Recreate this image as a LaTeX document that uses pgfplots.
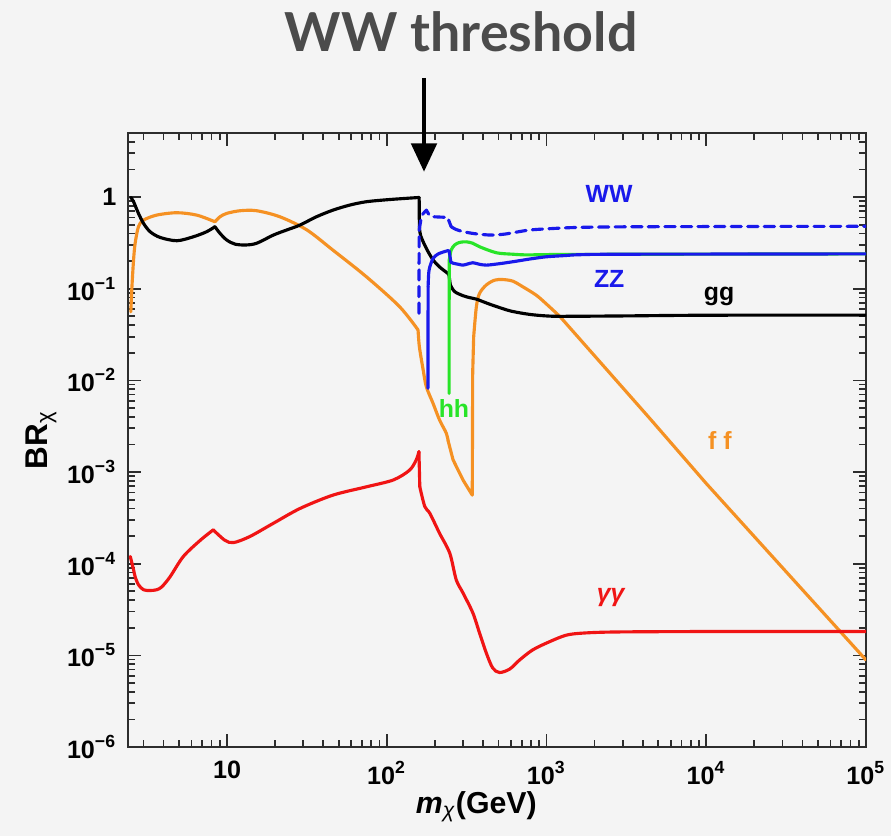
\documentclass[border=0pt]{standalone}
\usepackage{fontspec}
\setmainfont{Liberation Sans}
\newfontfamily\titlefont{Lato}
\usepackage{pgfplots}
\pgfplotsset{compat=1.18}
\usetikzlibrary{arrows.meta}
\definecolor{bg}{RGB}{244,244,244}
\definecolor{cOrange}{RGB}{245,145,35}
\definecolor{cBlue}{RGB}{25,25,235}
\definecolor{cGreen}{RGB}{40,228,40}
\definecolor{cRed}{RGB}{240,20,20}
\definecolor{cTitle}{RGB}{75,75,75}
\definecolor{cFrame}{RGB}{45,45,45}
\begin{document}
\begin{tikzpicture}
\path[use as bounding box, fill=bg] (-44.8pt,-31.15pt) rectangle (267.05pt,261.45pt);
\begin{axis}[
  scale only axis, width=258.3pt, height=214.9pt,
  xmode=log, ymode=log,
  xmin=2.4, xmax=1e5, ymin=1e-6, ymax=5,
  axis line style={cFrame, line width=0.8pt},
  every tick/.style={cFrame, line width=0.6pt},
  tick align=inside,
  major tick length=4.6pt, minor tick length=2.4pt,
  xtick={10,100,1000,10000,100000},
  xticklabels={10, 10\textsuperscript{2}, 10\textsuperscript{3}, 10\textsuperscript{4}, 10\textsuperscript{5}},
  minor xtick={3,4,5,6,7,8,9,20,30,40,50,60,70,80,90,200,300,400,500,600,700,800,900,2000,3000,4000,5000,6000,7000,8000,9000,20000,30000,40000,50000,60000,70000,80000,90000},
  ytick={1e-6,1e-5,1e-4,1e-3,1e-2,1e-1,1},
  yticklabels={10\textsuperscript{−6}, 10\textsuperscript{−5}, 10\textsuperscript{−4}, 10\textsuperscript{−3}, 10\textsuperscript{−2}, 10\textsuperscript{−1}, 1},
  minor ytick={2e-6,3e-6,4e-6,5e-6,6e-6,7e-6,8e-6,9e-6,2e-5,3e-5,4e-5,5e-5,6e-5,7e-5,8e-5,9e-5,2e-4,3e-4,4e-4,5e-4,6e-4,7e-4,8e-4,9e-4,2e-3,3e-3,4e-3,5e-3,6e-3,7e-3,8e-3,9e-3,2e-2,3e-2,4e-2,5e-2,6e-2,7e-2,8e-2,9e-2,0.2,0.3,0.4,0.5,0.6,0.7,0.8,0.9,2,3,4},
  tick label style={font=\bfseries\fontsize{8.8}{10}\selectfont, black},
  xticklabel style={yshift=-1.5pt},
  yticklabel style={xshift=-0.5pt},
  xlabel={\bfseries\itshape m\textsubscript{\normalfont\itshape χ}\upshape(GeV)},
  ylabel={\bfseries BR\textsubscript{\normalfont χ}},
  xlabel style={font=\fontsize{10.6}{12}\selectfont, at={(axis description cs:0.472,-0.097)}, anchor=center},
  ylabel style={font=\fontsize{11}{12}\selectfont, at={(axis description cs:-0.118,0.5)}, anchor=center},
  every axis plot/.append style={line width=1.1pt, line join=round, line cap=round},
  clip=true,
]
% ---------------- ff (orange) ----------------
\addplot[cOrange, smooth, tension=0.5] table {
2.5 0.056
2.54 0.105
2.6 0.206
2.66 0.313
2.79 0.475
3.0 0.56
3.63 0.636
4.85 0.675
6.46 0.636
8.4 0.538
};
\addplot[cOrange, smooth, tension=0.5] table {
8.4 0.538
9.04 0.61
9.96 0.664
12.1 0.71
15.3 0.71
21.4 0.61
31.5 0.44
46 0.264
74.6 0.135
120 0.064
157 0.0355
};
\addplot[cOrange, smooth, tension=0.5] table {
157 0.0355
160 0.0233
169 0.013
177 0.0085
195 0.0056
214 0.0037
236 0.00265
242 0.0022
};
\addplot[cOrange] table {
242 0.0022
260 0.00136
300 0.00082
343 0.00056
345 0.012
350 0.03
};
\addplot[cOrange, smooth, tension=0.5] table {
350 0.03
364 0.064
381 0.089
420 0.11
473 0.124
533 0.126
615 0.121
711 0.105
863 0.085
1000 0.068
1210 0.050
};
\addplot[cOrange] table {
1210 0.050
4400 0.0039
10000 0.00075
100000 0.0000089
};
% ---------------- gg (black) ----------------
\addplot[black, smooth, tension=0.5] table {
2.5 0.99
2.6 0.89
2.79 0.664
3.0 0.517
3.3 0.419
3.81 0.363
4.85 0.334
6.16 0.369
7.46 0.419
8.4 0.475
};
\addplot[black, smooth, tension=0.5] table {
8.4 0.475
9.04 0.402
9.96 0.34
11.2 0.307
13.0 0.30
15.3 0.313
19.5 0.385
23.6 0.437
28.6 0.495
36.3 0.61
46 0.72
58.7 0.818
74.6 0.89
104 0.94
159.5 0.99
};
\addplot[black] table {
159.5 0.99
160 0.48
};
\addplot[black, smooth, tension=0.5] table {
160 0.48
163 0.38
177 0.275
195 0.206
214 0.173
241 0.147
245 0.143
};
\addplot[black] table {
245 0.143
250 0.11
};
\addplot[black, smooth, tension=0.5] table {
250 0.11
266 0.093
300 0.084
330 0.080
364 0.077
420 0.070
485 0.064
600 0.057
783 0.0525
1000 0.0505
1260 0.050
3000 0.0505
10000 0.0514
100000 0.0516
};
% ---------------- gamma gamma (red) ----------------
\addplot[cRed, smooth, tension=0.5] table {
2.48 0.00012
2.6 0.000086
2.66 0.000072
2.79 0.000059
3.0 0.000052
3.3 0.000051
3.63 0.000052
3.91 0.000056
4.4 0.000072
5.33 0.00012
6.8 0.00018
8.2 0.000234
};
\addplot[cRed, smooth, tension=0.5] table {
8.2 0.000234
9.7 0.00018
11 0.00017
13.9 0.000198
19.5 0.000276
28.6 0.00040
46 0.00056
74.6 0.00069
110 0.00082
139 0.00105
153 0.00136
159 0.00167
};
\addplot[cRed] table {
159 0.00167
161 0.00069
};
\addplot[cRed, smooth, tension=0.5] table {
161 0.00069
173 0.00042
186 0.000355
214 0.000215
248 0.00013
272 0.000067
300 0.000048
346 0.000029
381 0.0000175
420 0.0000106
460 0.0000073
508 0.0000065
589 0.0000071
678 0.0000089
821 0.0000115
1045 0.0000141
1327 0.0000166
1690 0.0000175
2730 0.000018
10000 0.0000182
100000 0.0000182
};
% ---------------- hh (green) ----------------
\addplot[cGreen] table {
245.5 0.0072
246 0.205
};
\addplot[cGreen, smooth, tension=0.5] table {
246 0.205
253 0.264
266 0.30
285 0.32
315 0.325
346 0.313
381 0.287
485 0.247
615 0.238
783 0.234
1608 0.237
100000 0.24
};
% ---------------- WW (blue dashed) ----------------
\addplot[cBlue, dash pattern=on 3.6pt off 2.2pt] table {
159 0.054
159.5 0.437
165 0.62
169 0.66
177 0.72
185 0.63
195 0.61
241 0.60
245 0.55
253 0.475
};
\addplot[cBlue, dash pattern=on 3.6pt off 2.2pt, smooth, tension=0.5] table {
253 0.475
270 0.445
300 0.42
350 0.40
400 0.39
460 0.385
550 0.395
650 0.415
783 0.437
1000 0.45
1608 0.467
4200 0.475
100000 0.48
};
% ---------------- ZZ (blue solid) ----------------
\addplot[cBlue] table {
181 0.0082
181.5 0.105
};
\addplot[cBlue, smooth, tension=0.5] table {
181.5 0.105
183 0.147
186 0.173
195 0.214
210 0.24
241 0.26
246 0.255
};
\addplot[cBlue] table {
246 0.255
252 0.195
};
\addplot[cBlue, smooth, tension=0.5] table {
252 0.195
260 0.19
280 0.185
300 0.181
320 0.186
346 0.192
380 0.185
420 0.181
500 0.187
615 0.197
800 0.212
995 0.223
1300 0.23
1608 0.235
3000 0.238
100000 0.24
};
\begin{scope}[font=\bfseries\fontsize{8.7}{10}\selectfont]
\node[cBlue] at (rel axis cs:0.652,0.9007) {WW};
\node[cBlue] at (rel axis cs:0.652,0.762) {ZZ};
\node[black] at (rel axis cs:0.801,0.7345) {gg};
\node[cGreen] at (rel axis cs:0.4417,0.552) {hh};
\node[cOrange] at (rel axis cs:0.802,0.500) {f f};
\node[cRed, font=\bfseries\itshape\fontsize{8.7}{10}\selectfont] at (rel axis cs:0.654,0.2427) {γγ};
\end{scope}
\end{axis}
\draw[black, line width=1.7pt, -{Triangle[width=8.8pt,length=10pt]}] (103.6pt,234.2pt) -- (103.6pt,201.3pt);
\node[cTitle, font=\titlefont\bfseries\fontsize{18.8}{22}\selectfont, anchor=base] at (116.6pt,243.3pt) {WW threshold};
\end{tikzpicture}
\end{document}
